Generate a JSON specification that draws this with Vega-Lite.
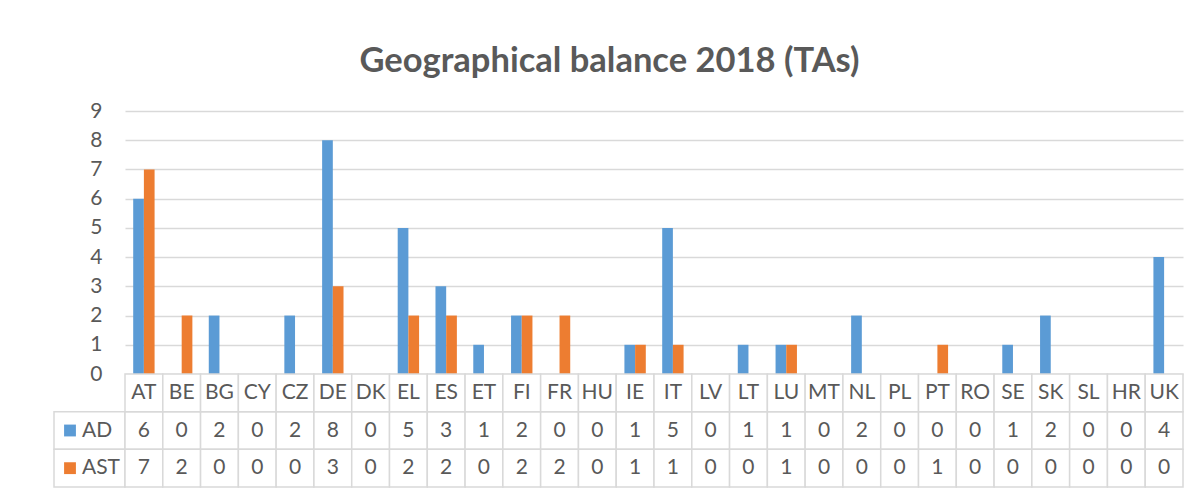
{
  "$schema": "https://vega.github.io/schema/vega-lite/v6.json",
  "padding": {"left": 53, "top": 43, "right": 10, "bottom": 5},
  "background": "white",
  "title": {"text": "Geographical balance 2018 (TAs)", "font": "Lato", "fontSize": 34.5, "fontWeight": "bold", "color": "#595959", "anchor": "middle", "dx": -9, "offset": 21},
  "datasets": {
    "tas": [
      {"country": "AT", "series": "AD", "value": 6}, {"country": "AT", "series": "AST", "value": 7},
      {"country": "BE", "series": "AD", "value": 0}, {"country": "BE", "series": "AST", "value": 2},
      {"country": "BG", "series": "AD", "value": 2}, {"country": "BG", "series": "AST", "value": 0},
      {"country": "CY", "series": "AD", "value": 0}, {"country": "CY", "series": "AST", "value": 0},
      {"country": "CZ", "series": "AD", "value": 2}, {"country": "CZ", "series": "AST", "value": 0},
      {"country": "DE", "series": "AD", "value": 8}, {"country": "DE", "series": "AST", "value": 3},
      {"country": "DK", "series": "AD", "value": 0}, {"country": "DK", "series": "AST", "value": 0},
      {"country": "EL", "series": "AD", "value": 5}, {"country": "EL", "series": "AST", "value": 2},
      {"country": "ES", "series": "AD", "value": 3}, {"country": "ES", "series": "AST", "value": 2},
      {"country": "ET", "series": "AD", "value": 1}, {"country": "ET", "series": "AST", "value": 0},
      {"country": "FI", "series": "AD", "value": 2}, {"country": "FI", "series": "AST", "value": 2},
      {"country": "FR", "series": "AD", "value": 0}, {"country": "FR", "series": "AST", "value": 2},
      {"country": "HU", "series": "AD", "value": 0}, {"country": "HU", "series": "AST", "value": 0},
      {"country": "IE", "series": "AD", "value": 1}, {"country": "IE", "series": "AST", "value": 1},
      {"country": "IT", "series": "AD", "value": 5}, {"country": "IT", "series": "AST", "value": 1},
      {"country": "LV", "series": "AD", "value": 0}, {"country": "LV", "series": "AST", "value": 0},
      {"country": "LT", "series": "AD", "value": 1}, {"country": "LT", "series": "AST", "value": 0},
      {"country": "LU", "series": "AD", "value": 1}, {"country": "LU", "series": "AST", "value": 1},
      {"country": "MT", "series": "AD", "value": 0}, {"country": "MT", "series": "AST", "value": 0},
      {"country": "NL", "series": "AD", "value": 2}, {"country": "NL", "series": "AST", "value": 0},
      {"country": "PL", "series": "AD", "value": 0}, {"country": "PL", "series": "AST", "value": 0},
      {"country": "PT", "series": "AD", "value": 0}, {"country": "PT", "series": "AST", "value": 1},
      {"country": "RO", "series": "AD", "value": 0}, {"country": "RO", "series": "AST", "value": 0},
      {"country": "SE", "series": "AD", "value": 1}, {"country": "SE", "series": "AST", "value": 0},
      {"country": "SK", "series": "AD", "value": 2}, {"country": "SK", "series": "AST", "value": 0},
      {"country": "SL", "series": "AD", "value": 0}, {"country": "SL", "series": "AST", "value": 0},
      {"country": "HR", "series": "AD", "value": 0}, {"country": "HR", "series": "AST", "value": 0},
      {"country": "UK", "series": "AD", "value": 4}, {"country": "UK", "series": "AST", "value": 0}
    ]
  },
  "data": {"name": "tas"},
  "columns": 2,
  "spacing": 0,
  "bounds": "flush",
  "resolve": {"scale": {"x": "independent", "y": "independent"}},
  "concat": [
    {
      "width": 71,
      "height": 263,
      "transform": [{"filter": "datum.value < 0"}],
      "mark": {"type": "point", "opacity": 0}
    },
    {
      "width": 1058,
      "height": 263,
      "mark": {"type": "bar"},
      "encoding": {
        "x": {"field": "country", "type": "nominal", "sort": null, "scale": {"paddingInner": 0.434, "paddingOuter": 0.217}, "axis": null},
        "xOffset": {"field": "series", "type": "nominal", "sort": ["AD", "AST"]},
        "y": {
          "field": "value", "type": "quantitative",
          "scale": {"domain": [0, 9]},
          "axis": {"values": [0, 1, 2, 3, 4, 5, 6, 7, 8, 9], "grid": true, "gridColor": "#d9d9d9", "gridWidth": 1.3, "domain": false, "ticks": false, "labelPadding": 23, "labelFont": "Lato", "labelFontSize": 21, "labelColor": "#595959", "title": null}
        },
        "color": {"field": "series", "type": "nominal", "scale": {"domain": ["AD", "AST"], "range": ["#5b9bd5", "#ed7d31"]}, "legend": null}
      }
    },
    {
      "width": 71,
      "height": 113,
      "transform": [{"filter": "datum.country === 'AT'"}],
      "encoding": {
        "y": {"field": "series", "type": "nominal", "scale": {"domain": ["hdr", "AD", "AST"], "paddingInner": 0, "paddingOuter": 0}, "axis": null}
      },
      "layer": [
        {"mark": {"type": "rect", "fill": "white", "stroke": "#d9d9d9", "strokeWidth": 1.5}},
        {
          "mark": {"type": "square", "size": 140, "opacity": 1, "filled": true, "xOffset": -19.5},
          "encoding": {"color": {"field": "series", "type": "nominal", "scale": {"domain": ["AD", "AST"], "range": ["#5b9bd5", "#ed7d31"]}, "legend": null}}
        },
        {
          "mark": {"type": "text", "align": "left", "dx": -7.5, "font": "Lato", "fontSize": 21, "color": "#595959"},
          "encoding": {"text": {"field": "series"}}
        }
      ]
    },
    {
      "width": 1058,
      "height": 113,
      "encoding": {
        "x": {"field": "country", "type": "nominal", "sort": null, "scale": {"paddingInner": 0, "paddingOuter": 0}, "axis": null}
      },
      "layer": [
        {
          "mark": {"type": "rect", "fill": "white", "stroke": "#d9d9d9", "strokeWidth": 1.5},
          "encoding": {"y": {"field": "series", "type": "nominal", "scale": {"domain": ["hdr", "AD", "AST"], "paddingInner": 0, "paddingOuter": 0}, "axis": null}}
        },
        {
          "transform": [{"filter": "datum.series === 'AD'"}],
          "mark": {"type": "rect", "fill": "white", "stroke": "#d9d9d9", "strokeWidth": 1.5},
          "encoding": {"y": {"datum": "hdr", "type": "nominal"}}
        },
        {
          "mark": {"type": "text", "font": "Lato", "fontSize": 21, "color": "#595959"},
          "encoding": {"y": {"field": "series", "type": "nominal"}, "text": {"field": "value"}}
        },
        {
          "transform": [{"filter": "datum.series === 'AD'"}],
          "mark": {"type": "text", "font": "Lato", "fontSize": 21, "color": "#595959"},
          "encoding": {"y": {"datum": "hdr", "type": "nominal"}, "text": {"field": "country"}}
        }
      ]
    }
  ],
  "config": {"view": {"stroke": null}, "font": "Lato"}
}
